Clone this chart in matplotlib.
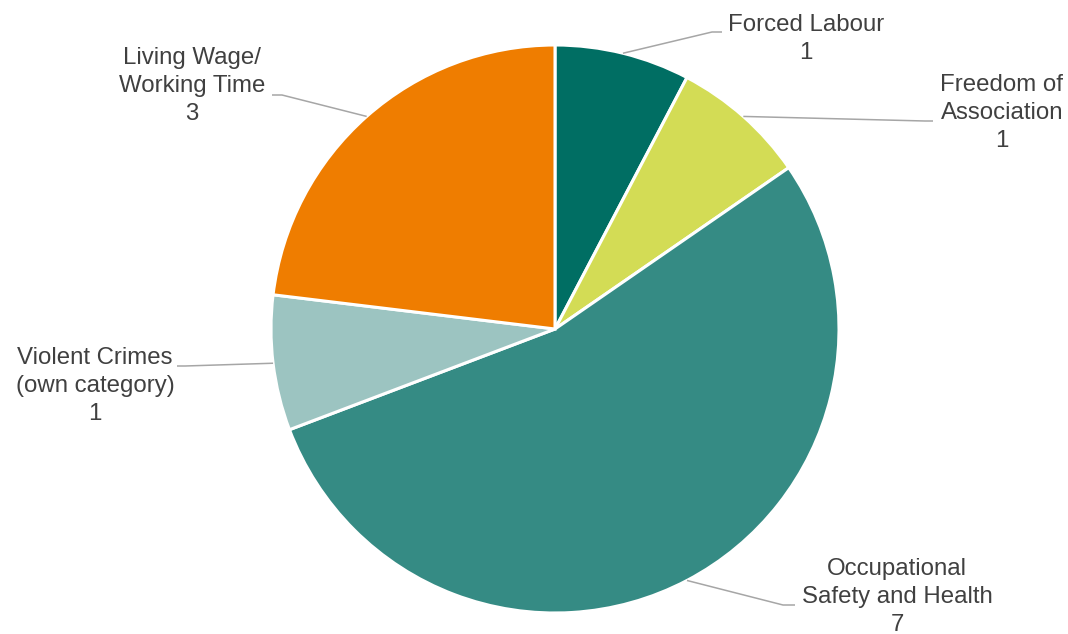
import matplotlib.pyplot as plt
import numpy as np

plt.rcParams['font.family'] = ['Liberation Sans', 'DejaVu Sans']

# issue categories and counts
categories = ["Forced Labour", "Freedom of\nAssociation", "Occupational\nSafety and Health",
              "Violent Crimes\n(own category)", "Living Wage/\nWorking Time"]
counts = [1, 1, 7, 1, 3]
colors = ["#006e63", "#d3dc55", "#358b84", "#9cc4c1", "#ef7d00"]

# label placement (text centre, elbow of leader line, end of short stub)
label_pos = [(806, 595), (1002, 521), (897, 37), (95, 248), (192, 548)]
elbow_pos = [(712, 602), (925, 513), (783, 29), (185, 268), (282, 539)]
stub_end = [(722, 602), (933, 513), (795, 29), (177, 268), (272, 539)]

fig = plt.figure(figsize=(10.68, 6.34), dpi=100)
ax = fig.add_axes([0, 0, 1, 1])

cx, cy, r = 555, 305, 284
wedges, _ = ax.pie(counts, colors=colors, startangle=90, counterclock=False,
                   center=(cx, cy), radius=r, frame=True,
                   wedgeprops=dict(edgecolor='white', linewidth=2.2))
ax.set_xlim(0, 1068)
ax.set_ylim(0, 634)
ax.set_aspect('equal')
ax.axis('off')

for w, name, n, tp, ep, sp in zip(wedges, categories, counts, label_pos, elbow_pos, stub_end):
    mid = np.deg2rad((w.theta1 + w.theta2) / 2)
    x0, y0 = cx + r * np.cos(mid), cy + r * np.sin(mid)
    ax.plot([x0, ep[0], sp[0]], [y0, ep[1], sp[1]], color='#a6a6a6', lw=1.1,
            solid_capstyle='butt', zorder=1)
    ax.text(tp[0], tp[1], f"{name}\n{n}", ha='center', va='center',
            multialignment='center', fontsize=17.3, color='#404040', linespacing=1.36)

fig.savefig("out.png", dpi=100)
